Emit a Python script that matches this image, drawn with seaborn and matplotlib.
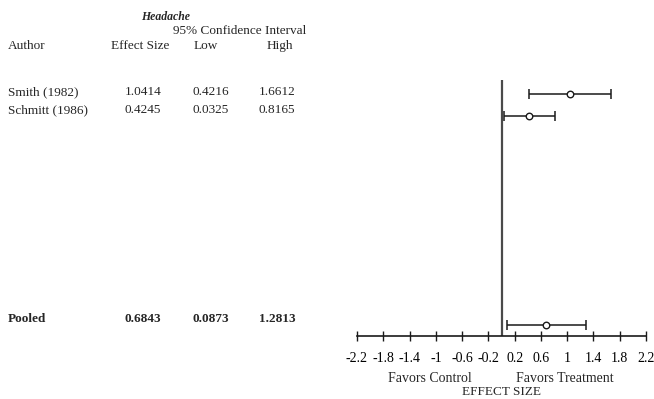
import matplotlib
matplotlib.use("Agg")
import matplotlib.pyplot as plt
import seaborn as sns
import pandas as pd

# data
authors = ["Smith (1982)", "Schmitt (1986)", "Pooled"]
effect = [1.0414, 0.4245, 0.6843]
low = [0.4216, 0.0325, 0.0873]
high = [1.6612, 0.8165, 1.2813]
ticks = [-2.2, -1.8, -1.4, -1, -0.6, -0.2, 0.2, 0.6, 1, 1.4, 1.8, 2.2]

df = pd.DataFrame({"author": authors, "effect": effect, "low": low, "high": high})
# vertical slot of each study in the plot (pooled sits at the bottom)
df["row"] = [0, 1, 10.5]

sns.set_theme(style="white")
plt.rcParams["font.family"] = ["Liberation Serif", "DejaVu Serif"]

W, H = 654, 399
fig = plt.figure(figsize=(W / 100, H / 100), dpi=100)


def px(x, y):
    return x / W, 1 - y / H


# forest plot area
ax = fig.add_axes([357 / W, 1 - 336 / H, 289 / W, 256 / H])
ink = "#1a1a1a"

ax.errorbar(df["effect"], df["row"],
            xerr=[df["effect"] - df["low"], df["high"] - df["effect"]],
            fmt="none", ecolor=ink, elinewidth=1.1, capsize=3.5, capthick=1.1)
sns.scatterplot(data=df, x="effect", y="row", ax=ax, marker="o", s=22,
                facecolor="white", edgecolor=ink, linewidth=1.0, zorder=5)
ax.axvline(0, color="#4a4a4a", lw=1.6)

ax.set_xlim(-2.2, 2.2)
ax.set_ylim(11.0, -0.64)
ax.set_xticks(ticks)
ax.set_xticklabels([f"{t:g}" for t in ticks], fontsize=10)
ax.set_yticks([])
ax.set_xlabel("")
ax.set_ylabel("")
for s in ["top", "left", "right"]:
    ax.spines[s].set_visible(False)
ax.spines["bottom"].set_color(ink)
ax.spines["bottom"].set_linewidth(1.2)
ax.spines["bottom"].set_bounds(-2.2, 2.2)
ax.tick_params(axis="x", bottom=True, direction="inout", length=7, width=1.0,
               color=ink, pad=8, labelcolor="black")
ax.patch.set_alpha(0)

fig.text(*px(430, 379), "Favors Control", ha="center", va="center", fontsize=10)
fig.text(*px(565, 379), "Favors Treatment", ha="center", va="center", fontsize=10)
fig.text(*px(502, 392), "EFFECT SIZE", ha="center", va="center", fontsize=9.5)

# table on the left
fs = 9.5
fig.text(*px(166, 17), "Headache", ha="center", va="center", fontsize=8.5,
         style="italic", weight="bold")
fig.text(*px(240, 31), "95% Confidence Interval", ha="center", va="center", fontsize=fs)
fig.text(*px(8, 46), "Author", ha="left", va="center", fontsize=fs)
fig.text(*px(140, 46), "Effect Size", ha="center", va="center", fontsize=fs)
fig.text(*px(206, 46), "Low", ha="center", va="center", fontsize=fs)
fig.text(*px(280, 46), "High", ha="center", va="center", fontsize=fs)

table_y = [92, 110, 319]
for i, r in df.iterrows():
    w = "bold" if r["author"] == "Pooled" else "normal"
    y = table_y[i]
    fig.text(*px(8, y), r["author"], ha="left", va="center", fontsize=fs, weight=w)
    fig.text(*px(143, y), f"{r['effect']:.4f}", ha="center", va="center", fontsize=fs, weight=w)
    fig.text(*px(211, y), f"{r['low']:.4f}", ha="center", va="center", fontsize=fs, weight=w)
    fig.text(*px(277, y), f"{r['high']:.4f}", ha="center", va="center", fontsize=fs, weight=w)

fig.savefig("out.png", dpi=100)
